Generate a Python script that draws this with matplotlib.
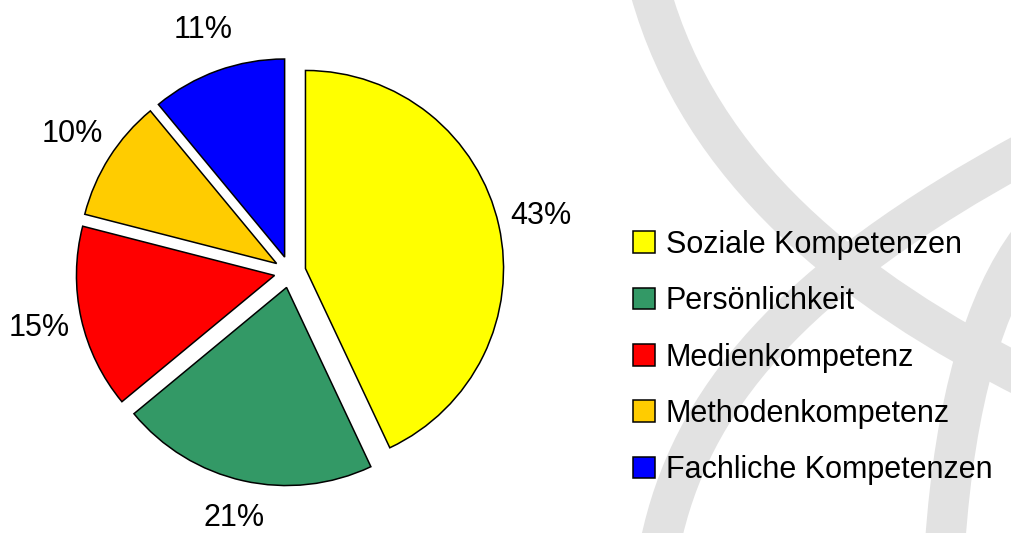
import matplotlib.pyplot as plt
from matplotlib.path import Path
from matplotlib.patches import PathPatch

plt.rcParams['font.family'] = ['Liberation Sans', 'DejaVu Sans']

labels = ['Soziale Kompetenzen', 'Persönlichkeit', 'Medienkompetenz',
          'Methodenkompetenz', 'Fachliche Kompetenzen']
shares = [43, 21, 15, 10, 11]
colors = ['#ffff00', '#339966', '#ff0000', '#ffcc00', '#0000ff']

W, H = 1011, 533
fig = plt.figure(figsize=(W / 100, H / 100), dpi=100)

# faint grey watermark swooshes in the background (pixel coords, y down)
bg = fig.add_axes([0, 0, 1, 1], zorder=0)
bg.set_xlim(0, W)
bg.set_ylim(H, 0)
bg.axis('off')
swooshes = [
    [(650, -10), (700, 170), (850, 290), (1030, 380)],
    [(660, 545), (690, 400), (790, 280), (1030, 150)],
    [(945, 545), (955, 400), (985, 300), (1030, 240)],
]
for pts in swooshes:
    p = Path(pts, [Path.MOVETO, Path.CURVE4, Path.CURVE4, Path.CURVE4])
    bg.add_patch(PathPatch(p, fill=False, edgecolor='#e2e2e2', lw=29, capstyle='butt'))

# pie: centre ~ (290, 261 from bottom), radius ~198 px
ax = fig.add_axes([32.5 / W, 3.5 / H, 515 / W, 515 / H], zorder=1)
wedges, _, autotexts = ax.pie(
    shares, colors=colors, startangle=90, counterclock=False,
    explode=[0.08] * len(shares), autopct='%d%%', pctdistance=1.22,
    wedgeprops=dict(edgecolor='black', linewidth=1.1),
    textprops=dict(fontsize=22, color='black'))
ax.set_xlim(-1.3, 1.3)
ax.set_ylim(-1.3, 1.3)
ax.set_aspect('equal')

# keep the bottom label inside the picture
x, y = autotexts[1].get_position()
autotexts[1].set_position((x, y + 0.025))

leg = fig.legend(wedges, labels, loc='upper left',
                 bbox_to_anchor=(633 / W, 1 - 230 / H),
                 frameon=False, fontsize=22, borderpad=0, borderaxespad=0,
                 handlelength=0.72, handleheight=0.72, handletextpad=0.35,
                 labelspacing=0.86)
leg.set_zorder(2)

plt.savefig('out.png', dpi=100)
